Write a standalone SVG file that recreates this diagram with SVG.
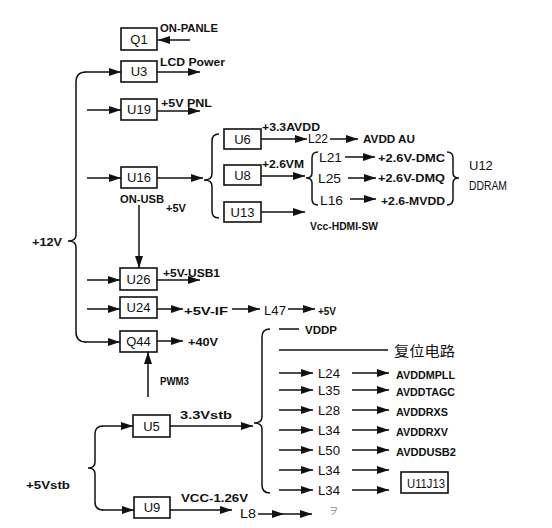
<svg xmlns="http://www.w3.org/2000/svg" width="552" height="528" viewBox="0 0 552 528">
<style>
.bg{fill:#ffffff}
.box{fill:#ffffff;stroke:#111;stroke-width:1.6}
.ln{fill:none;stroke:#111;stroke-width:1.5}
.ar{fill:none;stroke:#111;stroke-width:1.5;marker-end:url(#ah)}
.t{font-family:"Liberation Sans",Arial,sans-serif;font-size:11px;font-weight:bold;fill:#111}
.bt{font-family:"Liberation Sans",Arial,sans-serif;font-size:13px;fill:#111;text-anchor:middle}
.lt{font-family:"Liberation Sans",Arial,sans-serif;font-size:13px;fill:#111}
.cj{font-family:"Noto Sans CJK SC",sans-serif;font-size:14px;fill:#111}
</style>
<defs>
<marker id="ah" markerWidth="13" markerHeight="8" refX="12" refY="4" orient="auto" markerUnits="userSpaceOnUse">
<path d="M0,0 L12,4 L0,8 Z" fill="#111"/>
</marker>
</defs>
<rect class="bg" x="0" y="0" width="552" height="528"/>

<g id="connectors">
<line class="ar" x1="190" y1="40" x2="158" y2="40"/>
<path class="ln" d="M86,72 Q76,72 76,82 L76,235 Q76,241 68,241 Q76,241 76,247 L76,332 Q76,342 86,342"/>
<line class="ar" x1="85" y1="72" x2="121" y2="72"/>
<line class="ar" x1="87" y1="110" x2="121" y2="110"/>
<line class="ar" x1="87" y1="178" x2="121" y2="178"/>
<line class="ar" x1="87" y1="280" x2="120" y2="280"/>
<line class="ar" x1="87" y1="309" x2="120" y2="309"/>
<line class="ar" x1="85" y1="342" x2="120" y2="342"/>
<line class="ar" x1="157" y1="72" x2="200" y2="72"/>
<line class="ar" x1="157" y1="111" x2="200" y2="111"/>
<line class="ar" x1="157" y1="178" x2="203" y2="178"/>
<line class="ar" x1="139" y1="205" x2="139" y2="268"/>
<line class="ar" x1="157" y1="280" x2="200" y2="280"/>
<line class="ar" x1="157" y1="309" x2="183" y2="309"/>
<line class="ar" x1="232" y1="309" x2="260" y2="309"/>
<line class="ar" x1="288" y1="309" x2="315" y2="309"/>
<line class="ar" x1="157" y1="341" x2="183" y2="341"/>
<path class="ln" d="M219,134 Q212,134 212,141 L212,174 Q212,180 204,180 Q212,180 212,186 L212,211 Q212,218 219,218"/>
<line class="ar" x1="261" y1="139" x2="307" y2="139"/>
<line class="ar" x1="330" y1="139" x2="358" y2="139"/>
<line class="ar" x1="261" y1="176" x2="305" y2="176"/>
<line class="ar" x1="261" y1="212" x2="305" y2="212"/>
<path class="ln" d="M318,152 Q312,152 312,158 L312,173 Q312,178 306,178 Q312,178 312,183 L312,199 Q312,205 318,205"/>
<path class="ln" d="M447,152 Q453,152 453,158 L453,173 Q453,178 459,178 Q453,178 453,183 L453,199 Q453,205 447,205"/>
<line class="ar" x1="345" y1="157" x2="375" y2="157"/>
<line class="ar" x1="348" y1="178" x2="376" y2="178"/>
<line class="ar" x1="350" y1="199" x2="376" y2="199"/>
<line class="ar" x1="148" y1="397" x2="148" y2="352"/>
<path class="ln" d="M103,426 Q95,426 95,434 L95,462 Q95,468 88,468 Q95,468 95,474 L95,502 Q95,510 103,510"/>
<line class="ar" x1="102" y1="426" x2="133" y2="426"/>
<line class="ar" x1="102" y1="510" x2="134" y2="510"/>
<line class="ar" x1="170" y1="426" x2="253" y2="426"/>
<line class="ar" x1="170" y1="510" x2="232" y2="510"/>
<line class="ar" x1="258" y1="514" x2="284" y2="514"/>
<line class="ar" x1="284" y1="514" x2="312" y2="514"/>
<path class="ln" d="M270,329 Q262,329 262,337 L262,417 Q262,423 254,423 Q262,423 262,429 L262,485 Q262,493 270,493"/>
<line class="ln" x1="279" y1="329" x2="299" y2="329"/>
<line class="ln" x1="279" y1="350" x2="388" y2="350"/>
<line class="ar" x1="279" y1="373" x2="313" y2="373"/>
<line class="ar" x1="279" y1="390" x2="313" y2="390"/>
<line class="ar" x1="279" y1="410" x2="313" y2="410"/>
<line class="ar" x1="279" y1="430" x2="313" y2="430"/>
<line class="ar" x1="279" y1="450" x2="313" y2="450"/>
<line class="ar" x1="279" y1="470" x2="313" y2="470"/>
<line class="ar" x1="279" y1="490" x2="313" y2="490"/>
<line class="ar" x1="352" y1="373" x2="389" y2="373"/>
<line class="ar" x1="352" y1="390" x2="389" y2="390"/>
<line class="ar" x1="352" y1="410" x2="389" y2="410"/>
<line class="ar" x1="352" y1="430" x2="389" y2="430"/>
<line class="ar" x1="352" y1="450" x2="389" y2="450"/>
<line class="ar" x1="352" y1="470" x2="389" y2="470"/>
<line class="ar" x1="352" y1="490" x2="389" y2="490"/>
</g>

<g id="Q1"><rect class="box" x="121" y="28" width="36" height="22"/><text class="bt" x="139" y="44">Q1</text></g>
<g id="U3"><rect class="box" x="121" y="61" width="36" height="21"/><text class="bt" x="139" y="76">U3</text></g>
<g id="U19"><rect class="box" x="121" y="99" width="36" height="21"/><text class="bt" x="139" y="114">U19</text></g>
<g id="U16"><rect class="box" x="121" y="167" width="36" height="21"/><text class="bt" x="139" y="182">U16</text></g>
<g id="U26"><rect class="box" x="120" y="268" width="37" height="22"/><text class="bt" x="138.5" y="284">U26</text></g>
<g id="U24"><rect class="box" x="120" y="297" width="37" height="21"/><text class="bt" x="138.5" y="312">U24</text></g>
<g id="Q44"><rect class="box" x="120" y="331" width="37" height="21"/><text class="bt" x="138.5" y="346">Q44</text></g>
<g id="U6"><rect class="box" x="224" y="129" width="37" height="20"/><text class="bt" x="242.5" y="144">U6</text></g>
<g id="U8"><rect class="box" x="224" y="165" width="37" height="20"/><text class="bt" x="242.5" y="180">U8</text></g>
<g id="U13"><rect class="box" x="224" y="202" width="37" height="20"/><text class="bt" x="242.5" y="217">U13</text></g>
<g id="U5"><rect class="box" x="133" y="415" width="37" height="22"/><text class="bt" x="151.5" y="431">U5</text></g>
<g id="U9"><rect class="box" x="134" y="497" width="36" height="21"/><text class="bt" x="152" y="512">U9</text></g>
<g id="U11J13"><rect class="box" x="401" y="472" width="47" height="21"/><text class="lt" x="407" y="488" font-size="11" textLength="38" lengthAdjust="spacingAndGlyphs">U11J13</text></g>

<g id="labels">
<text class="t" x="160" y="32" textLength="58" lengthAdjust="spacingAndGlyphs">ON-PANLE</text>
<text class="t" x="160" y="66" textLength="65" lengthAdjust="spacingAndGlyphs">LCD Power</text>
<text class="t" x="161" y="107" textLength="51" lengthAdjust="spacingAndGlyphs">+5V PNL</text>
<text class="t" x="262" y="131" textLength="58" lengthAdjust="spacingAndGlyphs">+3.3AVDD</text>
<text class="lt" x="308" y="143" textLength="20" lengthAdjust="spacingAndGlyphs">L22</text>
<text class="t" x="363" y="143" textLength="52" lengthAdjust="spacingAndGlyphs">AVDD AU</text>
<text class="t" x="262" y="168" textLength="42" lengthAdjust="spacingAndGlyphs">+2.6VM</text>
<text class="lt" x="319" y="162" textLength="23" lengthAdjust="spacingAndGlyphs">L21</text>
<text class="t" x="378" y="162" textLength="67" lengthAdjust="spacingAndGlyphs">+2.6V-DMC</text>
<text class="lt" x="318" y="183" textLength="23" lengthAdjust="spacingAndGlyphs">L25</text>
<text class="t" x="378" y="182" textLength="67" lengthAdjust="spacingAndGlyphs">+2.6V-DMQ</text>
<text class="lt" x="320" y="205" textLength="23" lengthAdjust="spacingAndGlyphs">L16</text>
<text class="t" x="381" y="205" textLength="64" lengthAdjust="spacingAndGlyphs">+2.6-MVDD</text>
<text class="lt" x="469" y="170" font-size="12">U12</text>
<text class="lt" x="469" y="190" font-size="12" textLength="38" lengthAdjust="spacingAndGlyphs">DDRAM</text>
<text class="t" x="310" y="230" textLength="68" lengthAdjust="spacingAndGlyphs">Vcc-HDMI-SW</text>
<text class="t" x="120" y="203" textLength="44" lengthAdjust="spacingAndGlyphs">ON-USB</text>
<text class="t" x="166" y="212">+5V</text>
<text class="t" x="32" y="246" textLength="30" lengthAdjust="spacingAndGlyphs">+12V</text>
<text class="t" x="163" y="277" textLength="57" lengthAdjust="spacingAndGlyphs">+5V-USB1</text>
<text class="t" x="184" y="315" textLength="44" lengthAdjust="spacingAndGlyphs">+5V-IF</text>
<text class="lt" x="264" y="315" textLength="22" lengthAdjust="spacingAndGlyphs">L47</text>
<text class="t" x="318" y="315" textLength="18" lengthAdjust="spacingAndGlyphs">+5V</text>
<text class="t" x="188" y="346" textLength="30" lengthAdjust="spacingAndGlyphs">+40V</text>
<text class="t" x="305" y="334" textLength="32" lengthAdjust="spacingAndGlyphs">VDDP</text>
<text class="cj" x="394" y="356" textLength="61" lengthAdjust="spacingAndGlyphs">复位电路</text>
<text class="lt" x="318" y="378" textLength="22" lengthAdjust="spacingAndGlyphs">L24</text>
<text class="lt" x="318" y="395" textLength="22" lengthAdjust="spacingAndGlyphs">L35</text>
<text class="lt" x="318" y="415" textLength="22" lengthAdjust="spacingAndGlyphs">L28</text>
<text class="lt" x="318" y="435" textLength="22" lengthAdjust="spacingAndGlyphs">L34</text>
<text class="lt" x="318" y="455" textLength="22" lengthAdjust="spacingAndGlyphs">L50</text>
<text class="lt" x="318" y="475" textLength="22" lengthAdjust="spacingAndGlyphs">L34</text>
<text class="lt" x="318" y="495" textLength="22" lengthAdjust="spacingAndGlyphs">L34</text>
<text class="t" x="396" y="379" textLength="59" lengthAdjust="spacingAndGlyphs">AVDDMPLL</text>
<text class="t" x="396" y="396" textLength="59" lengthAdjust="spacingAndGlyphs">AVDDTAGC</text>
<text class="t" x="396" y="416" textLength="52" lengthAdjust="spacingAndGlyphs">AVDDRXS</text>
<text class="t" x="396" y="436" textLength="52" lengthAdjust="spacingAndGlyphs">AVDDRXV</text>
<text class="t" x="396" y="456" textLength="60" lengthAdjust="spacingAndGlyphs">AVDDUSB2</text>
<text class="t" x="160" y="385" textLength="29" lengthAdjust="spacingAndGlyphs">PWM3</text>
<text class="t" x="180" y="419" textLength="52" lengthAdjust="spacingAndGlyphs">3.3Vstb</text>
<text class="t" x="26" y="489" textLength="44" lengthAdjust="spacingAndGlyphs">+5Vstb</text>
<text class="t" x="181" y="502" textLength="67" lengthAdjust="spacingAndGlyphs">VCC-1.26V</text>
<text class="lt" x="240" y="518" textLength="16" lengthAdjust="spacingAndGlyphs">L8</text>
<text x="329" y="514" font-family="Noto Sans CJK JP, sans-serif" font-size="9" fill="#888">ヲ</text>
</g>
</svg>
